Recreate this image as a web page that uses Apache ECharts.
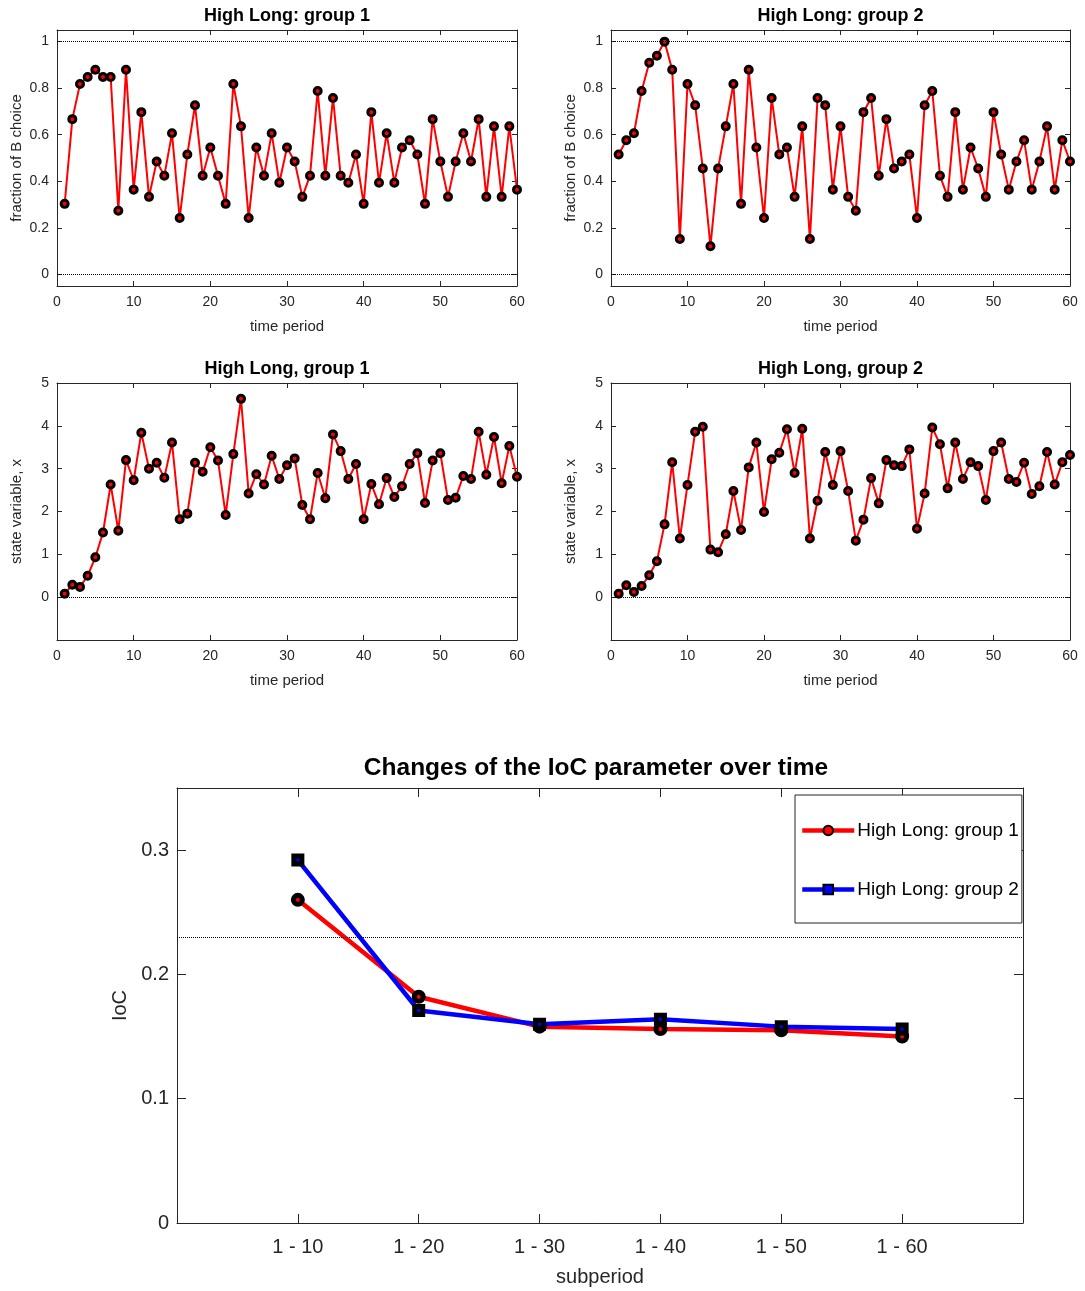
<!DOCTYPE html>
<html>
<head>
<meta charset="utf-8">
<title>High Long</title>
<script src="https://cdn.jsdelivr.net/npm/echarts@6/dist/echarts.min.js"></script>
<style>
  body { margin: 0; background: #fff; }
  #main { width: 1085px; height: 1291px; }
</style>
</head>
<body>
<div id="main"></div>
<script>
// fraction of B choice per period
var fracG1 = [0.303,0.667,0.818,0.848,0.879,0.848,0.848,0.273,0.879,0.364,
              0.697,0.333,0.485,0.424,0.606,0.242,0.515,0.727,0.424,0.545,
              0.424,0.303,0.818,0.636,0.242,0.545,0.424,0.606,0.394,0.545,
              0.485,0.333,0.424,0.788,0.424,0.758,0.424,0.394,0.515,0.303,
              0.697,0.394,0.606,0.394,0.545,0.576,0.515,0.303,0.667,0.485,
              0.333,0.485,0.606,0.485,0.667,0.333,0.636,0.333,0.636,0.364];
var fracG2 = [0.515,0.576,0.606,0.788,0.909,0.939,1.0,0.879,0.152,0.818,
              0.727,0.455,0.121,0.455,0.636,0.818,0.303,0.879,0.545,0.242,
              0.758,0.515,0.545,0.333,0.636,0.152,0.758,0.727,0.364,0.636,
              0.333,0.273,0.697,0.758,0.424,0.667,0.455,0.485,0.515,0.242,
              0.727,0.788,0.424,0.333,0.697,0.364,0.545,0.455,0.333,0.697,
              0.515,0.364,0.485,0.576,0.364,0.485,0.636,0.364,0.576,0.485];
// state variable x per period
var stateG1 = [0.08,0.29,0.24,0.50,0.93,1.51,2.63,1.55,3.20,2.73,
               3.84,3.00,3.14,2.79,3.61,1.82,1.95,3.14,2.93,3.50,
               3.19,1.92,3.34,4.63,2.42,2.87,2.63,3.30,2.76,3.08,
               3.24,2.15,1.82,2.90,2.31,3.80,3.41,2.76,3.11,1.82,
               2.64,2.17,2.78,2.34,2.59,3.11,3.36,2.20,3.19,3.36,
               2.27,2.32,2.83,2.76,3.86,2.86,3.74,2.66,3.53,2.81];
var stateG2 = [0.08,0.28,0.12,0.26,0.51,0.84,1.70,3.15,1.37,2.62,
               3.86,3.98,1.11,1.05,1.47,2.48,1.57,3.03,3.61,1.99,
               3.22,3.37,3.92,2.90,3.93,1.37,2.25,3.39,2.62,3.41,
               2.48,1.32,1.81,2.78,2.19,3.20,3.08,3.06,3.45,1.60,
               2.42,3.96,3.57,2.54,3.61,2.76,3.15,3.06,2.27,3.41,
               3.61,2.76,2.69,3.14,2.41,2.59,3.39,2.63,3.15,3.32];
// IoC per subperiod
var subperiods = ['1 - 10','1 - 20','1 - 30','1 - 40','1 - 50','1 - 60'];
var iocG1 = [0.260,0.182,0.158,0.156,0.155,0.150];
var iocG2 = [0.292,0.171,0.160,0.164,0.158,0.156];
var iocRef = 0.23;

var timeTicks = [0,10,20,30,40,50,60];
var fracTicks = [0,0.2,0.4,0.6,0.8,1];
var stateTicks = [0,1,2,3,4,5];
var iocTicks = [0,0.1,0.2,0.3];

var FONT = '"Liberation Sans", Arial, sans-serif';
var AX = '#262626';

var grids = [], xAxes = [], yAxes = [], series = [], titles = [];

function withIndex(arr) {
  return arr.map(function (v, i) { return [i + 1, v]; });
}

function addPanel(box, title, yName, ymin, ymax, yTicks, data, refs) {
  var gi = grids.length;
  grids.push({left: box[0], top: box[1], width: box[2], height: box[3], containLabel: false});
  titles.push({
    text: title, left: box[0] + box[2] / 2, top: box[1] - 23, textAlign: 'center', padding: 0,
    textStyle: {fontFamily: FONT, fontSize: 18, fontWeight: 'bold', color: '#000'}
  });
  var xi = xAxes.length;
  var baseX = {
    type: 'value', gridIndex: gi, min: 0, max: 60,
    axisLine: {onZero: false, lineStyle: {color: AX, width: 1}},
    axisTick: {inside: true, length: 5, customValues: timeTicks, lineStyle: {color: AX}},
    splitLine: {show: false}
  };
  xAxes.push(Object.assign({}, baseX, {
    position: 'bottom',
    axisLabel: {customValues: timeTicks, color: AX, fontFamily: FONT, fontSize: 14, margin: 9},
    name: 'time period', nameLocation: 'middle', nameGap: 33,
    nameTextStyle: {fontFamily: FONT, fontSize: 15, color: AX}
  }));
  xAxes.push(Object.assign({}, baseX, {position: 'top', axisLabel: {show: false}}));
  var yi = yAxes.length;
  var baseY = {
    type: 'value', gridIndex: gi, min: ymin, max: ymax,
    axisLine: {onZero: false, lineStyle: {color: AX, width: 1}},
    axisTick: {inside: true, length: 5, customValues: yTicks, lineStyle: {color: AX}},
    splitLine: {show: false}
  };
  yAxes.push(Object.assign({}, baseY, {
    position: 'left',
    axisLabel: {customValues: yTicks, color: AX, fontFamily: FONT, fontSize: 14, margin: 8},
    name: yName, nameLocation: 'middle', nameGap: 33,
    nameTextStyle: {fontFamily: FONT, fontSize: 15, color: AX}
  }));
  yAxes.push(Object.assign({}, baseY, {position: 'right', axisLabel: {show: false}}));
  series.push({
    type: 'line', xAxisIndex: xi, yAxisIndex: yi, data: withIndex(data),
    symbol: 'circle', symbolSize: 7,
    lineStyle: {color: '#ff0000', width: 2},
    itemStyle: {color: '#ff0000', borderColor: '#000', borderWidth: 3},
    z: 3,
    markLine: {
      silent: true, symbol: 'none', label: {show: false},
      lineStyle: {color: '#000', type: 'dotted', width: 1},
      data: refs.map(function (r) { return {yAxis: r}; })
    }
  });
}

addPanel([57, 30, 460, 256], 'High Long: group 1', 'fraction of B choice', -0.05, 1.05, fracTicks, fracG1, [0, 1]);
addPanel([611, 30, 459, 256], 'High Long: group 2', 'fraction of B choice', -0.05, 1.05, fracTicks, fracG2, [0, 1]);
addPanel([57, 383, 460, 257], 'High Long, group 1', 'state variable, x', -1, 5, stateTicks, stateG1, [0]);
addPanel([611, 383, 459, 257], 'High Long, group 2', 'state variable, x', -1, 5, stateTicks, stateG2, [0]);

// bottom IoC panel
var gb = grids.length;
grids.push({left: 177, top: 788, width: 846, height: 435});
titles.push({
  text: 'Changes of the IoC parameter over time', left: 596, top: 756, textAlign: 'center', padding: 0,
  textStyle: {fontFamily: FONT, fontSize: 24.5, fontWeight: 'bold', color: '#000'}
});
var subVals = [1, 2, 3, 4, 5, 6];
var bx = xAxes.length;
var bigTick = {inside: true, length: 9, lineStyle: {color: AX}};
xAxes.push({
  type: 'value', gridIndex: gb, min: 0, max: 7, position: 'bottom',
  axisLine: {onZero: false, lineStyle: {color: AX}},
  axisTick: Object.assign({customValues: subVals}, bigTick),
  axisLabel: {customValues: subVals, color: AX, fontFamily: FONT, fontSize: 20, margin: 14,
    formatter: function (v) { return subperiods[v - 1]; }},
  splitLine: {show: false},
  name: 'subperiod', nameLocation: 'middle', nameGap: 44,
  nameTextStyle: {fontFamily: FONT, fontSize: 20, color: AX}
});
xAxes.push({
  type: 'value', gridIndex: gb, min: 0, max: 7, position: 'top',
  axisLine: {onZero: false, lineStyle: {color: AX}},
  axisTick: Object.assign({customValues: subVals}, bigTick),
  axisLabel: {show: false}, splitLine: {show: false}
});
var by = yAxes.length;
yAxes.push({
  type: 'value', gridIndex: gb, min: 0, max: 0.35, position: 'left',
  axisLine: {onZero: false, lineStyle: {color: AX}},
  axisTick: Object.assign({customValues: iocTicks}, bigTick),
  axisLabel: {customValues: iocTicks, color: AX, fontFamily: FONT, fontSize: 20, margin: 8},
  splitLine: {show: false},
  name: 'IoC', nameLocation: 'middle', nameGap: 46,
  nameTextStyle: {fontFamily: FONT, fontSize: 20, color: AX}
});
yAxes.push({
  type: 'value', gridIndex: gb, min: 0, max: 0.35, position: 'right',
  axisLine: {onZero: false, lineStyle: {color: AX}},
  axisTick: Object.assign({customValues: iocTicks}, bigTick),
  axisLabel: {show: false}, splitLine: {show: false}
});
series.push({
  name: 'High Long: group 1', type: 'line', xAxisIndex: bx, yAxisIndex: by,
  data: iocG1.map(function (v, i) { return [subVals[i], v]; }),
  symbol: 'circle', symbolSize: 9,
  lineStyle: {color: '#ff0000', width: 4.5},
  itemStyle: {color: '#ff0000', borderColor: '#000', borderWidth: 5},
  markLine: {
    silent: true, symbol: 'none', label: {show: false},
    lineStyle: {color: '#000', type: 'dotted', width: 1},
    data: [{yAxis: iocRef}]
  }
});
series.push({
  name: 'High Long: group 2', type: 'line', xAxisIndex: bx, yAxisIndex: by,
  data: iocG2.map(function (v, i) { return [subVals[i], v]; }),
  symbol: 'rect', symbolSize: 8,
  lineStyle: {color: '#0000ff', width: 4.5},
  itemStyle: {color: '#0000ff', borderColor: '#000', borderWidth: 5}
});

var chart = echarts.init(document.getElementById('main'), null, {renderer: 'canvas'});
chart.setOption({
  backgroundColor: '#fff',
  animation: false,
  title: titles,
  grid: grids,
  xAxis: xAxes,
  yAxis: yAxes,
  series: series,
  legend: {
    data: [
      {name: 'High Long: group 1', lineStyle: {width: 4.5}},
      {name: 'High Long: group 2', lineStyle: {width: 4.5}}
    ],
    orient: 'vertical', left: 795, top: 795,
    padding: [26, 3, 24, 5],
    itemGap: 40, itemWidth: 52, itemHeight: 12,
    borderColor: '#262626', borderWidth: 1, backgroundColor: '#fff',
    textStyle: {fontFamily: FONT, fontSize: 19, color: '#000', padding: [0, 0, 0, -2]}
  }
});
</script>
</body>
</html>
